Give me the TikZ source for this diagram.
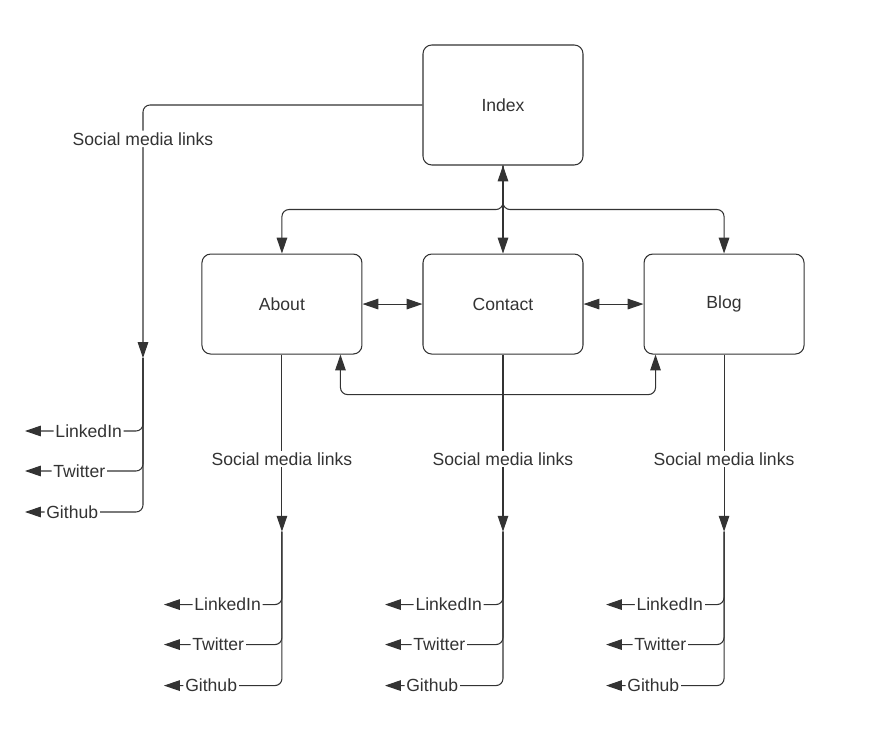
\documentclass[tikz,border=0pt]{standalone}
\usepackage{fontspec}
\setmainfont{Liberation Sans}
\usepackage{tikz}
\usetikzlibrary{positioning,calc,arrows.meta}
\definecolor{ink}{HTML}{333333}

\begin{document}
\begin{tikzpicture}[>={Triangle[length=9pt,width=6pt]}, line width=0.6pt, color=ink, font=\fontsize{10}{12}\selectfont]
    \tikzset{page/.style={draw, rounded corners=5pt, minimum width=3.2cm, minimum height=2cm, inner sep=0pt},
             link/.style={fill=white, inner sep=1pt}}
    \useasboundingbox (-10.06,-12.86) rectangle (7.58,2.1);
    % Nodes
    \node (index) [page, minimum height=2.4cm] {Index};
    \node (contact) [page, below=1.76cm of index] {Contact};
    \node (about) [page, left=1.2cm of contact] {About};
    \node (blog) [page, right=1.2cm of contact] {Blog};

    % Hubs of the social links
    \coordinate (indexsoc) at ($(index)+(-7.2,-5.06)$);
    \coordinate (aboutsoc) at ($(about.south)+(0,-3.54)$);
    \coordinate (contactsoc) at ($(contact.south)+(0,-3.54)$);
    \coordinate (blogsoc) at ($(blog.south)+(0,-3.54)$);

    % Arrows
    \draw [<->] (index) to (contact);
    \draw [->, rounded corners] (index.south) -- ++(0,-0.88) -| (about.north);
    \draw [->, rounded corners] (index.south) -- ++(0,-0.88) -| (blog.north);
    \draw [<->] (about) to (contact);
    \draw [<->] (contact) to (blog);
    \draw [<->, rounded corners] ([xshift=-0.44cm]about.south east) -- ++(0,-0.8) -| ([xshift=0.24cm]blog.south west);

    \draw [->, rounded corners] (index.west) -| (indexsoc) node [link, pos=0.567] {Social media links};
    \draw [->] (about) to node [link, pos=0.59] {Social media links} (aboutsoc);
    \draw [->] (contact) to node [link, pos=0.59] {Social media links} (contactsoc);
    \draw [->] (blog) to node [link, pos=0.59] {Social media links} (blogsoc);

    \foreach \s in {indexsoc, aboutsoc, contactsoc, blogsoc} {
        \coordinate (\s-in) at ($(\s)+(-2.36,-1.46)$);
        \coordinate (\s-tw) at ($(\s)+(-2.36,-2.26)$);
        \coordinate (\s-gh) at ($(\s)+(-2.36,-3.08)$);
        \draw [->, rounded corners] (\s) |- (\s-in) node [link, pos=0.73] {LinkedIn};
        \draw [->, rounded corners] (\s) |- (\s-tw) node [link, pos=0.77] {Twitter};
        \draw [->, rounded corners] (\s) |- (\s-gh) node [link, pos=0.8] {Github};
    }
\end{tikzpicture}
\end{document}
